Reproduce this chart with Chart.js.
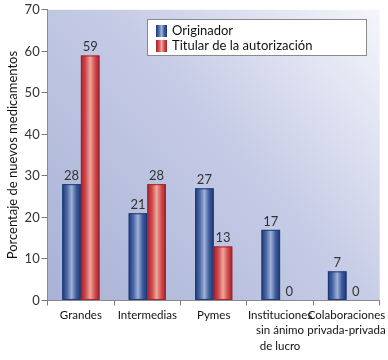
<!DOCTYPE html>
<html>
<head>
<meta charset="utf-8">
<script src="https://cdn.jsdelivr.net/npm/chart.js"></script>
<style>
html,body{margin:0;padding:0;background:#fff}
#wrap{width:388px;height:360px}
</style>
</head>
<body>
<div id="wrap"><canvas id="chart" width="388" height="360"></canvas></div>
<script>
const categories = ['Grandes', 'Intermedias', 'Pymes', ['Instituciones','sin ánimo','de lucro'], ['Colaboraciones','privada-privada']];
const originador = [28, 21, 27, 17, 7];
const titular = [59, 28, 13, 0, 0];
const yTicks = [0, 10, 20, 30, 40, 50, 60, 70];

const FONT = 'Lato';

// cylinder look: dark edge -> light middle -> dark edge
const blueStops = ['#1d3a78', '#4a67a6', '#9fb2d8', '#3f5c9c', '#1a3672'];
const redStops = ['#a8202c', '#cc4a4c', '#f0a89c', '#d0504e', '#a21c28'];

const plotBg = {
  id: 'plotBg',
  beforeDraw(chart) {
    const {ctx, chartArea: a} = chart;
    const g = ctx.createLinearGradient(a.left, a.bottom, a.right, a.top);
    g.addColorStop(0, '#a9b2d6');
    g.addColorStop(0.55, '#c6cce6');
    g.addColorStop(1, '#f5f6fb');
    ctx.save();
    ctx.fillStyle = g;
    ctx.fillRect(a.left, a.top, a.right - a.left, a.bottom - a.top);
    ctx.restore();
  }
};

const cylinders = {
  id: 'cylinders',
  afterDatasetsDraw(chart) {
    const ctx = chart.ctx;
    ctx.save();
    chart.data.datasets.forEach((ds, di) => {
      const stops = di === 0 ? blueStops : redStops;
      chart.getDatasetMeta(di).data.forEach((el, i) => {
        const {x, y, base, width} = el.getProps(['x', 'y', 'base', 'width'], true);
        const l = x - width / 2;
        if (base - y > 0.5) {
          const g = ctx.createLinearGradient(l, 0, l + width, 0);
          stops.forEach((c, k) => g.addColorStop(k / (stops.length - 1), c));
          ctx.fillStyle = g;
          ctx.fillRect(l, y, width, base - y);
          ctx.strokeStyle = stops[0];
          ctx.lineWidth = 1;
          ctx.strokeRect(l + 0.5, y + 0.5, width - 1, base - y - 1);
        }
        ctx.fillStyle = '#333';
        ctx.font = '13px ' + FONT;
        ctx.textAlign = 'center';
        ctx.textBaseline = 'bottom';
        ctx.fillText(String(ds.data[i]), x, y - 2);
      });
    });
    ctx.restore();
  }
};

const boxLegend = {
  id: 'boxLegend',
  afterDraw(chart) {
    const ctx = chart.ctx;
    ctx.save();
    ctx.fillStyle = '#fff';
    ctx.fillRect(147.5, 19.5, 219, 36);
    ctx.strokeStyle = '#8a8a8a';
    ctx.lineWidth = 1;
    ctx.strokeRect(147.5, 19.5, 219, 36);
    ctx.font = '13px ' + FONT;
    ctx.textBaseline = 'middle';
    ctx.textAlign = 'left';
    chart.data.datasets.forEach((ds, di) => {
      const stops = di === 0 ? blueStops : redStops;
      const sy = 25 + di * 15;
      const g = ctx.createLinearGradient(156, 0, 167, 0);
      stops.forEach((c, k) => g.addColorStop(k / (stops.length - 1), c));
      ctx.fillStyle = g;
      ctx.fillRect(156, sy, 11, 12);
      ctx.fillStyle = '#111';
      ctx.fillText(ds.label, 172, sy + 6);
    });
    ctx.restore();
  }
};

new Chart(document.getElementById('chart'), {
  type: 'bar',
  data: {
    labels: categories,
    datasets: [
      {label: 'Originador', data: originador, backgroundColor: 'rgba(0,0,0,0)'},
      {label: 'Titular de la autorización', data: titular, backgroundColor: 'rgba(0,0,0,0)'}
    ]
  },
  options: {
    responsive: false,
    animation: false,
    devicePixelRatio: 1,
    layout: {padding: {top: 2, right: 3, bottom: 4, left: 5}},
    categoryPercentage: 0.56,
    barPercentage: 1,
    plugins: {legend: {display: false}, tooltip: {enabled: false}},
    scales: {
      x: {
        grid: {drawOnChartArea: false, tickLength: 5, color: '#777'},
        border: {color: '#8a8a8a'},
        ticks: {color: '#111', font: {family: FONT, size: 11.5, lineHeight: 1.35}, padding: 2, maxRotation: 0, autoSkip: false}
      },
      y: {
        min: 0, max: 70,
        afterBuildTicks: s => { s.ticks = yTicks.map(v => ({value: v})); },
        grid: {drawOnChartArea: false, tickLength: 6, color: '#777'},
        border: {color: '#8a8a8a'},
        ticks: {color: '#333', font: {family: FONT, size: 13}, padding: 2},
        title: {display: true, text: 'Porcentaje de nuevos medicamentos', color: '#111', font: {family: FONT, size: 13}, padding: {top: 0, bottom: 2}}
      }
    }
  },
  plugins: [plotBg, cylinders, boxLegend]
});
</script>
</body>
</html>
